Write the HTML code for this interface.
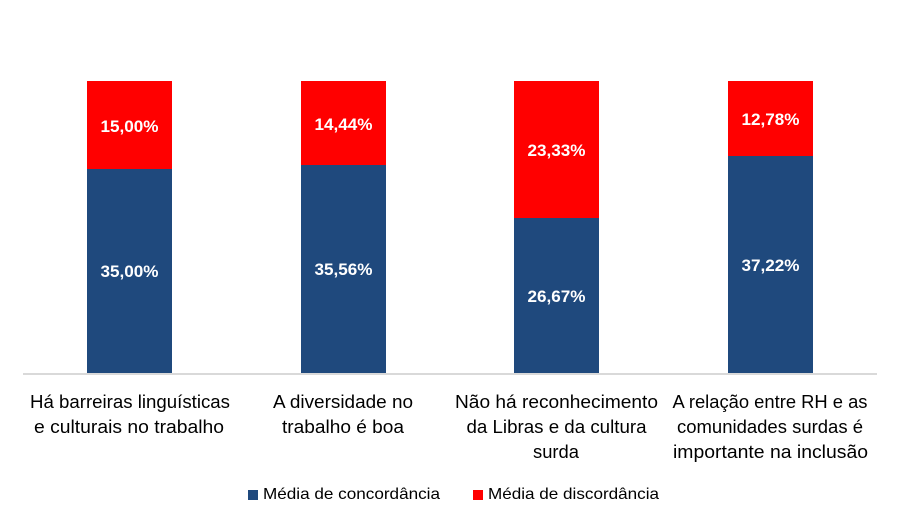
<!DOCTYPE html>
<html>
<head>
<meta charset="utf-8">
<style>
  html, body { margin: 0; padding: 0; background: #ffffff; }
  svg { display: block; }
  text { font-family: "Liberation Sans", Arial, sans-serif; }
</style>
</head>
<body>
<svg width="900" height="525" viewBox="0 0 900 525" xmlns="http://www.w3.org/2000/svg">
  <rect x="0" y="0" width="900" height="525" fill="#ffffff"/>

  <!-- Bars -->
  <!-- Bar 1 -->
  <rect x="87" y="81" width="85" height="88" fill="#ff0000"/>
  <rect x="87" y="169" width="85" height="204" fill="#1f497d"/>
  <!-- Bar 2 -->
  <rect x="301" y="81" width="85" height="84" fill="#ff0000"/>
  <rect x="301" y="165" width="85" height="208" fill="#1f497d"/>
  <!-- Bar 3 -->
  <rect x="514" y="81" width="85" height="137" fill="#ff0000"/>
  <rect x="514" y="218" width="85" height="155" fill="#1f497d"/>
  <!-- Bar 4 -->
  <rect x="728" y="81" width="85" height="75" fill="#ff0000"/>
  <rect x="728" y="156" width="85" height="217" fill="#1f497d"/>

  <!-- Axis line -->
  <rect x="23" y="373" width="854" height="2" fill="#d9d9d9"/>

  <!-- Data labels -->
  <g fill="#ffffff" font-size="17" font-weight="bold" text-anchor="middle">
    <text x="129.5" y="132" textLength="58" lengthAdjust="spacingAndGlyphs">15,00%</text>
    <text x="129.5" y="277" textLength="58" lengthAdjust="spacingAndGlyphs">35,00%</text>
    <text x="343.5" y="130" textLength="58" lengthAdjust="spacingAndGlyphs">14,44%</text>
    <text x="343.5" y="275" textLength="58" lengthAdjust="spacingAndGlyphs">35,56%</text>
    <text x="556.5" y="156" textLength="58" lengthAdjust="spacingAndGlyphs">23,33%</text>
    <text x="556.5" y="302" textLength="58" lengthAdjust="spacingAndGlyphs">26,67%</text>
    <text x="770.5" y="125" textLength="58" lengthAdjust="spacingAndGlyphs">12,78%</text>
    <text x="770.5" y="271" textLength="58" lengthAdjust="spacingAndGlyphs">37,22%</text>
  </g>

  <!-- Category labels -->
  <g fill="#000000" font-size="18" text-anchor="middle">
    <text x="130" y="408" textLength="200" lengthAdjust="spacingAndGlyphs">Há barreiras linguísticas</text>
    <text x="129" y="433" textLength="190" lengthAdjust="spacingAndGlyphs">e culturais no trabalho</text>

    <text x="343" y="408" textLength="140" lengthAdjust="spacingAndGlyphs">A diversidade no</text>
    <text x="343" y="433" textLength="122" lengthAdjust="spacingAndGlyphs">trabalho é boa</text>

    <text x="556.5" y="408" textLength="203" lengthAdjust="spacingAndGlyphs">Não há reconhecimento</text>
    <text x="556.5" y="433" textLength="180" lengthAdjust="spacingAndGlyphs">da Libras e da cultura</text>
    <text x="556" y="458" textLength="46" lengthAdjust="spacingAndGlyphs">surda</text>

    <text x="770" y="408" textLength="195" lengthAdjust="spacingAndGlyphs">A relação entre RH e as</text>
    <text x="770" y="433" textLength="186" lengthAdjust="spacingAndGlyphs">comunidades surdas é</text>
    <text x="770.5" y="458" textLength="195" lengthAdjust="spacingAndGlyphs">importante na inclusão</text>
  </g>

  <!-- Legend -->
  <rect x="248" y="490" width="10" height="10" fill="#1f497d"/>
  <text x="263" y="499" font-size="16" fill="#000000" textLength="177" lengthAdjust="spacingAndGlyphs">Média de concordância</text>
  <rect x="473" y="490" width="10" height="10" fill="#ff0000"/>
  <text x="488" y="499" font-size="16" fill="#000000" textLength="171" lengthAdjust="spacingAndGlyphs">Média de discordância</text>
</svg>
</body>
</html>
